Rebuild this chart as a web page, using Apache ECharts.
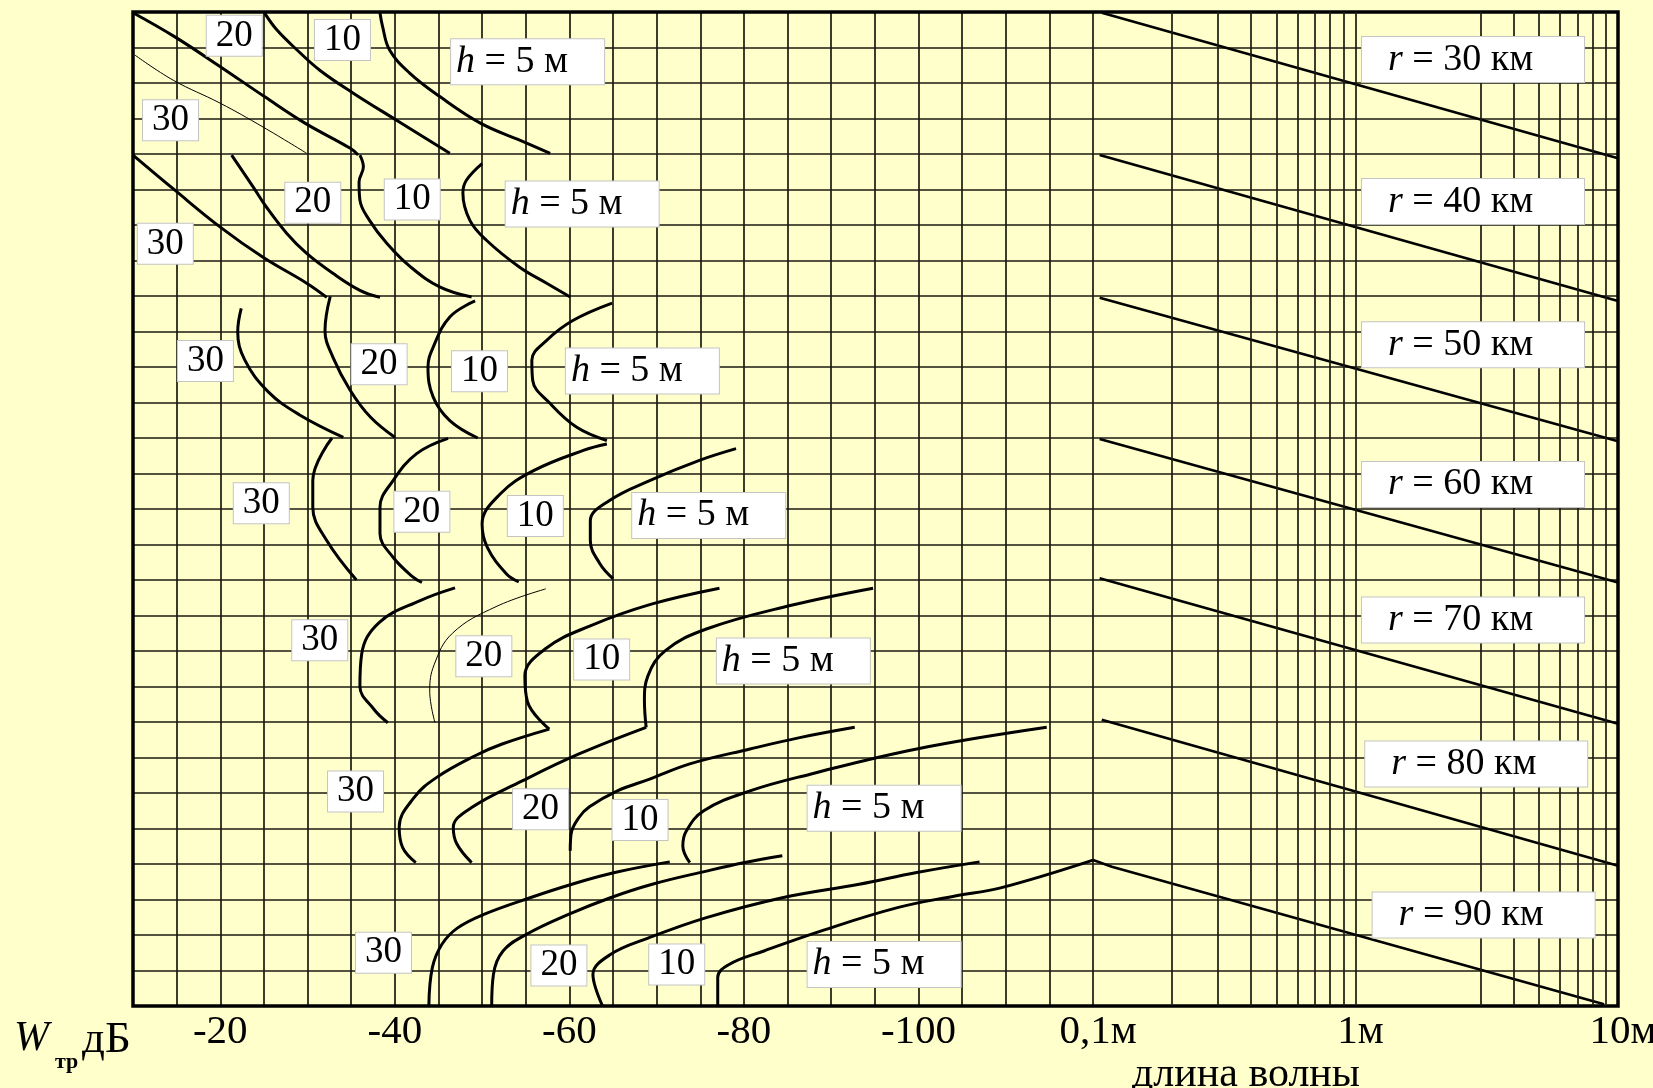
<!DOCTYPE html>
<html>
<head>
<meta charset="utf-8">
<script src="https://cdn.jsdelivr.net/npm/echarts@6/dist/echarts.min.js"></script>
<style>
  html, body { margin: 0; padding: 0; background: #FFFFCC; }
  #chart { width: 1653px; height: 1088px; }
</style>
</head>
<body>
<div id="chart"></div>
<script>
// Attenuation (dB) ticks on the left scale, wavelength ticks on the right scale
const dbTicks = [-20, -40, -60, -80, -100];
const waveLabels = ['0,1м', '1м', '10м'];          // at 0.1, 1, 10 m
// Vertical rulings of the wavelength scale (the 2 m line is absent on this sheet)
const waveGrid = [0.2, 0.3, 0.4, 0.5, 0.6, 0.7, 0.8, 0.9, 1, 3, 4, 5, 6, 7, 8, 9];

// Curves [W, row] for each distance band r and antenna height h
// r = 30 km (rows 0..4)
const r30h30 = [[-10.2, 1.21], [-14.6, 1.92], [-20, 2.57], [-24.9, 3.24], [-29.9, 3.98]];
const r30h20 = [[-10, 0.02], [-14.8, 0.70], [-20, 1.54], [-25.1, 2.39], [-29.7, 3.13], [-34.9, 3.84], [-35.8, 4.03]];
const r30h10 = [[-25.1, 0.04], [-26.5, 0.51], [-28.8, 1.07], [-31.4, 1.64], [-35.2, 2.28], [-40.2, 3.05], [-46.3, 3.98]];
const r30h5 = [[-38.3, 0.02], [-38.6, 0.41], [-39.4, 1.07], [-41.7, 1.72], [-45.2, 2.39], [-49.8, 3.13], [-54.3, 3.61], [-57.8, 3.98]];
// r = 40 km (rows 4..8)
const r40h30 = [[-10, 4.03], [-14.8, 5.02], [-20, 6.06], [-24.9, 6.91], [-29.9, 7.64], [-32.2, 8.04]];
const r40h20 = [[-21.3, 4.03], [-23.8, 4.94], [-25.3, 5.5], [-27.6, 6.23], [-29.9, 6.8], [-32.9, 7.36], [-36, 7.84], [-38.3, 8.04]];
const r40h10 = [[-36.0, 4.03], [-36.4, 4.36], [-35.9, 4.79], [-36.0, 5.3], [-37.1, 5.87], [-39.1, 6.52], [-41.8, 7.18], [-45.2, 7.75], [-48.8, 8.03]];
const r40h5 = [[-50.0, 4.27], [-48.2, 4.74], [-47.8, 5.1], [-48.6, 5.87], [-50.5, 6.43], [-54.3, 7.19], [-57.4, 7.64], [-60.1, 8.03]];
// r = 50 km (rows 8..12)
const r50h30 = [[-22.4, 8.35], [-22.0, 9.0], [-22.8, 9.8], [-25.5, 10.7], [-29.1, 11.35], [-34.1, 11.98]];
const r50h20 = [[-32.6, 8.01], [-32.0, 8.97], [-32.9, 9.72], [-34.9, 10.66], [-37.2, 11.41], [-40.0, 11.98]];
const r50h10 = [[-49.2, 8.14], [-46.3, 8.59], [-44.4, 9.44], [-43.8, 10.0], [-44.4, 10.85], [-46.3, 11.51], [-49.5, 12.0]];
const r50h5 = [[-64.9, 8.2], [-60.4, 8.69], [-57.4, 9.25], [-55.7, 9.81], [-55.8, 10.38], [-57.8, 11.03], [-60.8, 11.69], [-64.3, 12.07]];
// r = 60 km (rows 12..16)
const r60h30 = [[-32.8, 12.0], [-30.6, 13.2], [-30.6, 13.95], [-32.2, 14.89], [-35.6, 16.0]];
const r60h20 = [[-46.1, 12.01], [-42.5, 12.44], [-39.8, 13.2], [-38.3, 13.95], [-38.3, 14.69], [-39.8, 15.36], [-42.1, 15.92], [-43.1, 16.07]];
const r60h10 = [[-64.3, 12.17], [-61.6, 12.35], [-55.9, 12.92], [-52.1, 13.57], [-50.0, 14.42], [-50.6, 15.08], [-52.8, 15.83], [-54.2, 16.05]];
const r60h5 = [[-79.1, 12.3], [-74.9, 12.63], [-69.2, 13.2], [-64.6, 13.76], [-62.4, 14.33], [-62.4, 14.89], [-63.5, 15.54], [-65.0, 15.96]];
// r = 70 km (rows 16..20)
const r70h30 = [[-46.9, 16.22], [-42.9, 16.58], [-38.2, 17.2], [-36.2, 18.09], [-36.0, 18.99], [-37.6, 19.64], [-39.2, 20.02]];
const r70h20 = [[-57.3, 16.25], [-51.6, 16.75], [-46.6, 17.5], [-44.5, 18.39], [-44.0, 19.13], [-44.6, 20.02]];
const r70h10 = [[-77.2, 16.23], [-69.4, 16.68], [-62.4, 17.29], [-57.3, 17.93], [-54.9, 18.7], [-55.2, 19.43], [-57.7, 20.2]];
const r70h5 = [[-94.8, 16.23], [-85.3, 16.72], [-75.7, 17.38], [-71.0, 17.99], [-69.0, 18.7], [-68.6, 19.4], [-68.8, 20.15]];
// r = 80 km (rows 20..24)
const r80h30 = [[-57.7, 20.2], [-52.3, 20.62], [-49.2, 20.95], [-44.8, 21.56], [-42.2, 22.13], [-40.5, 22.96], [-40.9, 23.54], [-42.4, 23.96]];
const r80h20 = [[-68.8, 20.15], [-61.1, 20.9], [-54.6, 21.66], [-48.8, 22.41], [-46.7, 22.97], [-47.1, 23.43], [-48.8, 23.96]];
const r80h10 = [[-92.7, 20.15], [-86.4, 20.44], [-80.7, 20.76], [-73.8, 21.18], [-69.2, 21.61], [-65.5, 21.94], [-62.3, 22.39], [-61.1, 22.69], [-60.2, 23.15], [-60.1, 23.63]];
const r80h5 = [[-114.7, 20.15], [-99.8, 20.76], [-87.6, 21.47], [-80.7, 21.94], [-75.4, 22.5], [-73.4, 23.07], [-73.0, 23.49], [-73.8, 23.96]];
// r = 90 km (rows 24..28)
const r90h30 = [[-71.5, 23.94], [-65.2, 24.24], [-60.3, 24.57], [-55.5, 24.95], [-50.2, 25.42], [-47.2, 25.8], [-45.4, 26.26], [-44.3, 26.92], [-43.9, 28]];
const r90h20 = [[-84.4, 23.77], [-80.1, 23.96], [-75.7, 24.2], [-69.5, 24.57], [-64.7, 24.95], [-59.9, 25.42], [-55.1, 25.98], [-52.4, 26.45], [-51.3, 27.11], [-51.1, 28]];
const r90h10 = [[-107.0, 23.94], [-99.8, 24.24], [-93.2, 24.57], [-84.4, 24.95], [-75.7, 25.51], [-69.1, 26.08], [-64.7, 26.55], [-62.7, 27.11], [-63.0, 27.49], [-63.8, 28]];
const r90h5 = [[-120, 23.89], [-109.3, 24.68], [-104.2, 24.9], [-97.6, 25.23], [-88.8, 25.89], [-82.3, 26.45], [-78.3, 26.83], [-77.0, 27.2], [-77.0, 28]];

// Wavelength correction lines [λ (m), row]
const rLine30 = [[0.108, 0.02], [10, 4.12]];
const rLine40 = [[0.106, 4.03], [10, 8.14]];
const rLine50 = [[0.106, 8.05], [10, 12.09]];
const rLine60 = [[0.106, 12.03], [10, 16.07]];
const rLine70 = [[0.106, 15.95], [10, 20.05]];
const rLine80 = [[0.108, 19.94], [10, 24.05]];
const rLine90 = [[0.1, 23.89], [0.118, 24.08], [8.85, 27.95]];

// Height tags next to the curves [W, row, h]
const heightTags = [
  [-21.6, 0.67, '20'], [-34.0, 0.79, '10'], [-14.3, 3.05, '30'],
  [-30.6, 5.37, '20'], [-42.0, 5.28, '10'], [-13.7, 6.53, '30'],
  [-18.3, 9.83, '30'], [-38.2, 9.92, '20'], [-49.7, 10.12, '10'],
  [-24.7, 13.84, '30'], [-43.1, 14.08, '20'], [-56.1, 14.2, '10'],
  [-31.4, 17.7, '30'], [-50.2, 18.15, '20'], [-63.7, 18.24, '10'],
  [-35.5, 21.96, '30'], [-56.7, 22.46, '20'], [-68.1, 22.76, '10'],
  [-38.7, 26.5, '30'], [-58.8, 26.86, '20'], [-72.3, 26.83, '10']
];
// "h = 5 м" tags [W, row]
const h5Tags = [[-46.45, 1.40], [-52.7, 5.41], [-59.6, 10.11], [-67.2, 14.18], [-76.9, 18.28], [-87.3, 22.43], [-87.3, 26.83]];
// Distance tags [λ, row, r km]
const rTags = [[1.059, 1.34, 30], [1.059, 5.34, 40], [1.059, 9.37, 50], [1.059, 13.31, 60], [1.059, 17.13, 70], [1.089, 21.18, 80], [1.162, 25.44, 90]];

const SERIF = '"Liberation Serif", "Times New Roman", serif';
const GRID_LINE = { color: '#1a1a10', width: 1.7 };

const thickCurves = [r30h20, r30h10, r30h5,
  r40h30, r40h20, r40h10, r40h5,
  r50h30, r50h20, r50h10, r50h5,
  r60h30, r60h20, r60h10, r60h5,
  r70h30, r70h10, r70h5,
  r80h30, r80h20, r80h10, r80h5,
  r90h30, r90h20, r90h10, r90h5];
const thinCurves = [r30h30, r70h20];
const rLines = [rLine30, rLine40, rLine50, rLine60, rLine70, rLine80, rLine90];

function curveSeries(data, width) {
  return {
    type: 'line', xAxisIndex: 0, yAxisIndex: 0, data: data,
    smooth: 0.4, symbol: 'none', silent: true, z: 3,
    lineStyle: { color: '#000', width: width }
  };
}

const series = [];
thickCurves.forEach(c => series.push(curveSeries(c, 3)));
thinCurves.forEach(c => series.push(curveSeries(c, 1)));
rLines.forEach(c => series.push({
  type: 'line', xAxisIndex: 1, yAxisIndex: 1, data: c,
  symbol: 'none', silent: true, z: 3,
  lineStyle: { color: '#000', width: 2.6 }
}));

// Vertical rulings of the wavelength panel
series.push({
  type: 'line', xAxisIndex: 1, yAxisIndex: 1, data: [[1, 0]],
  symbol: 'none', lineStyle: { opacity: 0 }, silent: true,
  markLine: {
    silent: true, symbol: ['none', 'none'], label: { show: false },
    lineStyle: { color: GRID_LINE.color, width: GRID_LINE.width, type: 'solid' },
    data: waveGrid.map(v => ({ xAxis: v }))
  }
});

// Shared look of the white tag boxes
const tagBox = {
  show: true, color: '#000', fontFamily: SERIF,
  backgroundColor: '#ffffff', borderColor: '#c4c4c4', borderWidth: 1
};
const tagItem = { color: 'transparent', opacity: 1 };

// Height tags
series.push({
  type: 'scatter', xAxisIndex: 0, yAxisIndex: 0, z: 5, silent: true,
  symbolSize: 0.01, itemStyle: tagItem,
  data: heightTags.map(t => ({ value: [t[0], t[1]], name: t[2] })),
  label: Object.assign({}, tagBox, {
    position: 'inside', formatter: p => p.name,
    fontSize: 37, lineHeight: 37, padding: [2, 9, 1, 9]
  })
});
series.push({
  type: 'scatter', xAxisIndex: 0, yAxisIndex: 0, z: 5, silent: true,
  symbolSize: 0.01, itemStyle: tagItem,
  data: h5Tags.map(t => ({ value: [t[0], t[1]] })),
  label: Object.assign({}, tagBox, {
    position: 'right', distance: 0,
    formatter: '{i|h} = 5 м',
    fontSize: 38, lineHeight: 37,
    width: 148, padding: [4, 0, 4, 5], align: 'left',
    rich: { i: { fontFamily: SERIF, fontSize: 38, fontStyle: 'italic', lineHeight: 37 } }
  })
});
series.push({
  type: 'scatter', xAxisIndex: 1, yAxisIndex: 1, z: 5, silent: true,
  symbolSize: 0.01, itemStyle: tagItem,
  data: rTags.map(t => ({ value: [t[0], t[1]], name: String(t[2]) })),
  label: Object.assign({}, tagBox, {
    position: 'right', distance: 0,
    formatter: p => '{i|r} = ' + p.name + ' км',
    fontSize: 38, lineHeight: 37,
    width: 196, padding: [4, 0, 4, 26], align: 'left',
    rich: { i: { fontFamily: SERIF, fontSize: 38, fontStyle: 'italic', lineHeight: 37 } }
  })
});

const PLOT_TOP = 12, PLOT_BOTTOM = 82, LEFT = 133, SPLIT = 1093, RIGHT_EDGE = 1618;
// Fixed plot rectangles: labels may run to the canvas edge without shrinking the plots
const fixedGrid = { containLabel: false, outerBoundsMode: 'none' };

function decadeLabel(v) {
  const e = Math.log10(v);
  const k = Math.round(e);
  return Math.abs(e - k) < 1e-6 ? (waveLabels[k + 1] || '') : '';
}

const option = {
  animation: false,
  backgroundColor: '#FFFFCC',
  grid: [
    Object.assign({ left: LEFT, top: PLOT_TOP, width: SPLIT - LEFT, bottom: PLOT_BOTTOM, show: false }, fixedGrid),
    Object.assign({ left: SPLIT, top: PLOT_TOP, width: RIGHT_EDGE - SPLIT, bottom: PLOT_BOTTOM, show: false }, fixedGrid),
    Object.assign({ left: LEFT, top: PLOT_TOP, width: RIGHT_EDGE - LEFT, bottom: PLOT_BOTTOM, show: true,
      backgroundColor: 'transparent', borderColor: '#000', borderWidth: 3.5, z: 4 }, fixedGrid)
  ],
  xAxis: [
    {
      gridIndex: 0, type: 'value', min: -120, max: -10, interval: 5, inverse: true,
      axisLine: { show: false }, axisTick: { show: false },
      splitLine: { show: true, lineStyle: GRID_LINE },
      axisLabel: {
        margin: 6, fontFamily: SERIF, fontSize: 41, color: '#000',
        formatter: v => dbTicks.indexOf(v) >= 0 ? String(v) : ''
      }
    },
    {
      gridIndex: 1, type: 'log', logBase: 10, min: 0.1, max: 10,
      axisLine: { show: false }, axisTick: { show: false },
      splitLine: { show: false },
      axisLabel: {
        margin: 6, fontFamily: SERIF, fontSize: 41, color: '#000',
        padding: [0, 0, 0, 10], hideOverlap: false,
        formatter: decadeLabel
      }
    }
  ],
  yAxis: [0, 1].map(g => ({
    gridIndex: g, type: 'value', min: 0, max: 28, interval: 1, inverse: true,
    axisLine: { show: false }, axisTick: { show: false }, axisLabel: { show: false },
    splitLine: { show: true, lineStyle: GRID_LINE }
  })),
  graphic: [
    { type: 'text', x: 14, y: 1039, style: { text: 'W', fontFamily: SERIF, fontSize: 42, fontStyle: 'italic', fill: '#000', textVerticalAlign: 'middle' } },
    { type: 'text', x: 55, y: 1062, style: { text: 'тр', fontFamily: SERIF, fontSize: 22, fontWeight: 'bold', fill: '#000', textVerticalAlign: 'middle' } },
    { type: 'text', x: 82, y: 1040, style: { text: 'дБ', fontFamily: SERIF, fontSize: 45, fill: '#000', textVerticalAlign: 'middle' } },
    { type: 'text', x: 1246, y: 1075, style: { text: 'длина волны', fontFamily: SERIF, fontSize: 42, fill: '#000', textAlign: 'center', textVerticalAlign: 'middle' } }
  ],
  series: series
};

const chart = echarts.init(document.getElementById('chart'), null, { renderer: 'canvas' });
chart.setOption(option);
</script>
</body>
</html>
